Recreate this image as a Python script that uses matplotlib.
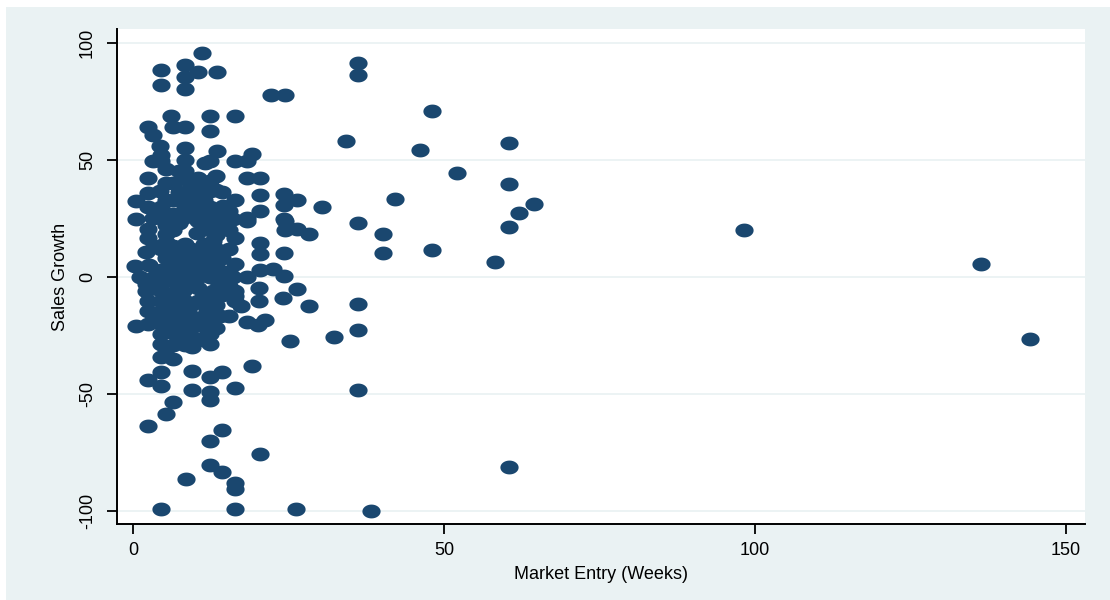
import numpy as np
import matplotlib
matplotlib.use("Agg")
import matplotlib.pyplot as plt
from matplotlib.path import Path
from matplotlib.patches import Rectangle

NAVY = "#1a476f"
REGION = "#eaf2f3"

# weeks to market entry, one entry per product
entry_weeks = [
    0.4, 0.4, 0.3, 1.0, 0.4,
    2.3, 3.1, 3.1, 2.4, 2.4, 3.2, 2.4, 2.1, 3.7, 2.1, 2.3, 2.3, 2.3, 2.3, 2.3,
    2.3, 2.3, 2.5, 2.0, 3.3, 3.3, 3.3,
    4.4, 4.4, 4.3, 4.4, 4.5, 5.3, 4.3, 5.3, 5.3, 4.4, 4.4, 4.4, 5.3, 4.4, 4.4,
    4.4, 4.4, 4.4, 4.4,
    4.4, 4.4, 4.4, 4.4, 4.4, 4.4,
    5.3, 5.3, 5.3, 5.3, 5.3, 5.3, 5.3, 5.3,
    6.1, 6.3, 6.3, 6.3, 6.3, 5.2,
    6.3, 6.3, 6.3, 6.3, 6.3, 6.3, 6.3, 6.3, 6.3, 6.3, 6.3, 6.3,
    7.3, 7.3, 7.3, 7.3, 7.3, 7.3, 7.3, 7.3, 7.3, 7.3,
    8.3, 8.3, 8.3, 8.3, 8.3, 8.3, 8.3, 8.3, 8.0, 9.1, 7.5, 8.0, 8.3, 8.3, 8.3,
    8.3, 8.3, 9.4, 9.4, 9.4, 8.4,
    8.3, 8.3, 8.3, 8.3,
    9.3, 9.3, 9.3, 9.3, 9.3, 9.3, 9.3, 9.3, 9.3, 9.3,
    10.4, 10.7, 10.2, 10.7, 10.4, 10.4,
    10.4, 10.4, 10.4, 10.4, 10.4, 10.4, 10.4,
    11.1, 11.5, 11.8, 11.8,
    11.3, 11.3, 11.3, 11.3, 11.3, 11.3, 11.3, 11.3, 11.3,
    12.3, 12.3, 12.3, 12.3, 12.3, 12.3, 12.8, 12.3, 12.8, 12.3, 12.3, 12.3,
    12.3, 12.3, 12.3, 12.3, 12.3, 12.3,
    12.3, 12.3, 12.3, 12.3, 12.3,
    13.4, 13.4, 13.9,
    13.3, 13.3, 13.3, 13.3, 13.3, 13.3, 13.3, 13.3, 13.3,
    14.4, 14.3, 14.3, 14.3,
    14.3, 14.3, 14.3, 14.3, 14.3, 14.3,
    15.3, 15.3, 15.3, 15.3, 15.3,
    16.3, 16.3, 16.3, 16.0, 16.3, 16.3, 16.0, 16.3, 16.3, 16.3, 17.3, 15.4,
    16.3, 16.3, 16.3, 16.3,
    18.3, 19.1, 18.3, 18.2, 18.2, 18.2, 18.2, 19.1,
    20.3, 20.3, 20.3, 20.3, 20.3, 20.3, 20.2, 20.2, 21.1, 20.1, 20.3,
    22.2, 22.4,
    24.4, 24.3, 24.2, 24.2, 24.4, 24.4, 24.3, 24.3, 24.1, 25.2,
    26.3, 26.3, 26.3, 26.2,
    28.3, 28.2, 30.3, 32.2, 34.2,
    36.1, 36.1, 36.2, 36.2, 36.2, 36.2, 38.2,
    40.2, 40.2, 42.1, 46.1, 48.1, 48.1, 52.1, 58.2,
    60.4, 60.4, 60.4, 60.4, 62.1, 64.4,
    98.2, 136.4, 144.3,
]

# sales growth (%) for the same products
sales_growth = [
    32.4, 24.5, 4.7, -0.3, -21.2,
    64.0, 60.5, 49.4, 42.3, 35.9, 25.3, 16.7, 10.4, -0.3, -6.0, -10.2, -14.5, -20.2, -44.0, -63.8,
    30.0, 20.5, 5.0, -3.0, 13.0, 0.0, -17.0,
    88.5, 82.1, 56.0, 52.0, 49.4, 46.2, 36.6, 18.2, 8.2, -10.2, -14.5, -20.2, -20.9, -24.4, -28.7,
    -34.4, -40.8, -46.9, -99.3,
    30.0, 25.0, 12.0, 3.0, -3.0, -6.0,
    40.0, 33.0, 22.0, 15.0, 0.0, -8.0, -17.0, -31.0,
    68.6, 64.0, 3.3, -35.1, -53.5, -58.8,
    40.0, 33.0, 27.0, 20.0, 13.0, 8.0, -2.0, -7.0, -13.0, -18.0, -24.0, -29.0,
    45.0, 36.0, 23.0, 10.0, 5.0, -4.0, -10.0, -15.0, -21.0, -27.0,
    90.3, 85.2, 80.4, 64.0, 55.0, 49.7, 45.2, 41.6, 25.3, 8.2, -1.7, -6.0, -10.2, -14.5, -20.2,
    -24.4, -29.4, -30.1, -40.2, -48.6, -86.5,
    35.0, 30.0, 14.0, 3.0,
    38.0, 32.0, 27.0, 12.0, 0.0, -4.0, -12.0, -17.0, -22.0, -26.0,
    87.5, 35.2, 18.9, 0.4, -10.2, -26.6,
    42.0, 28.0, 24.0, 10.0, 5.0, -5.0, -18.0,
    95.5, 48.7, -13.8, -22.3,
    40.0, 33.0, 22.0, 14.0, 8.0, 2.0, -8.0, -17.0, -27.0,
    68.7, 62.5, 49.4, 40.9, 36.6, 25.3, 15.3, 5.4, -6.0, -14.5, -18.0, -24.4,
    -28.7, -42.9, -49.3, -52.5, -70.4, -80.5,
    30.0, 20.0, 10.0, 0.0, -10.0,
    87.6, 53.8, -17.0,
    43.0, 37.0, 26.0, 18.0, 12.0, 5.0, -1.0, -12.0, -22.0,
    30.3, -40.8, -65.6, -83.6,
    36.0, 22.0, 8.0, 2.0, -3.0, -8.0,
    28.0, 20.0, 12.0, 2.0, -4.0,
    68.6, 49.4, 32.8, 24.6, 16.7, 5.4, -0.3, -6.0, -8.1, -10.2, -12.4, -16.8,
    -47.7, -88.0, -90.8, -99.3,
    49.4, 52.6, 42.3, 25.2, 23.9, -0.3, -19.5, -38.2,
    42.3, 35.0, 28.0, 14.4, 9.6, 2.8, -5.0, -10.2, -18.6, -20.5, -75.6,
    77.5, 3.5,
    77.5, 35.2, 30.7, 24.8, 23.9, 20.0, 10.3, 0.4, -8.9, -27.3,
    32.9, 20.5, -5.3, -99.3,
    18.1, -12.5, 29.8, -25.9, 58.0,
    91.3, 86.1, 22.8, -11.7, -22.7, -48.4, -100.0,
    18.1, 10.2, 33.3, 54.0, 70.7, 11.6, 44.4, 6.3,
    57.1, 39.8, 21.2, -81.2, 27.4, 31.2,
    19.9, 5.4, -26.6,
]

x_ticks = [0, 50, 100, 150]
y_ticks = [-100, -50, 0, 50, 100]

# flattened circle, the filled oval marker
theta = np.linspace(0, 2 * np.pi, 64)
oval = Path(np.column_stack([np.cos(theta), 0.76 * np.sin(theta)]), closed=True)

plt.rcParams['font.family'] = ['Liberation Sans', 'DejaVu Sans']
plt.rcParams['axes.unicode_minus'] = False

fig = plt.figure(figsize=(11.1, 6.0), dpi=100, facecolor="white")
fig.patches.append(Rectangle((6 / 1110, 0), 1, 593 / 600, transform=fig.transFigure,
                             facecolor=REGION, edgecolor="none", zorder=-1))

ax = fig.add_axes([0.1051, 0.1267, 0.8724, 0.825])
ax.set_facecolor("white")

for y in y_ticks:
    ax.axhline(y, color=REGION, lw=1.3, zorder=1)

ax.scatter(entry_weeks, sales_growth, marker=oval, s=172, c=NAVY,
           linewidths=0, zorder=3)

ax.set_xlim(-2.7, 153.1)
ax.set_ylim(-105.7, 105.9)
ax.set_xticks(x_ticks)
ax.set_yticks(y_ticks)

for side in ("top", "right"):
    ax.spines[side].set_visible(False)
for side in ("left", "bottom"):
    ax.spines[side].set_linewidth(1.4)
    ax.spines[side].set_color("black")

ax.tick_params(axis="both", length=7, width=1.3, labelsize=13, colors="black")
ax.tick_params(axis="x", pad=6)
ax.tick_params(axis="y", pad=8)
for lbl in ax.get_yticklabels():
    lbl.set_rotation(90)
    lbl.set_va("center")
    lbl.set_ha("right")

ax.set_xlabel("Market Entry (Weeks)", fontsize=13, labelpad=5)
ax.set_ylabel("Sales Growth", fontsize=13, labelpad=7)

fig.savefig("out.png", dpi=100, facecolor=fig.get_facecolor())
